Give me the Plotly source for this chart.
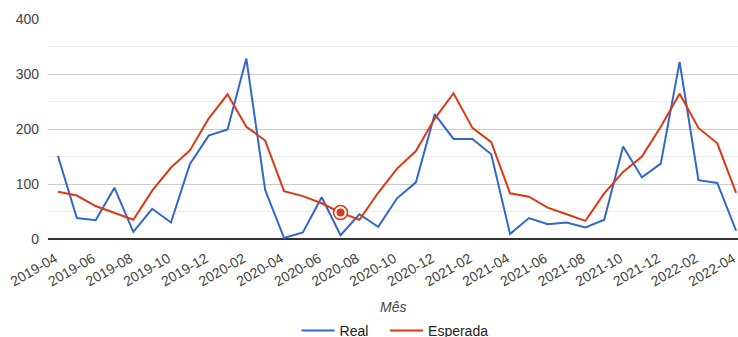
import plotly.graph_objects as go

months = ["2019-04","2019-05","2019-06","2019-07","2019-08","2019-09","2019-10","2019-11","2019-12",
          "2020-01","2020-02","2020-03","2020-04","2020-05","2020-06","2020-07","2020-08","2020-09",
          "2020-10","2020-11","2020-12","2021-01","2021-02","2021-03","2021-04","2021-05","2021-06",
          "2021-07","2021-08","2021-09","2021-10","2021-11","2021-12","2022-01","2022-02","2022-03","2022-04"]
real = [151, 38, 34, 93, 13, 55, 30, 136, 188, 199, 328, 89, 2, 12, 76, 7, 45, 22,
        74, 103, 227, 182, 182, 154, 9, 38, 27, 30, 21, 35, 168, 112, 137, 322, 107, 102, 15]
esperada = [86, 79, 60, 48, 35, 88, 130, 161, 219, 263, 204, 179, 87, 78, 65, 48, 35, 84,
            128, 160, 219, 265, 202, 176, 83, 77, 57, 45, 33, 83, 122, 150, 204, 264, 202, 174, 84]
series_names = ["Real", "Esperada"]
highlight_month = "2020-07"

idx = list(range(len(months)))
tick_idx = idx[::2]
tick_text = months[::2]
hi = months.index(highlight_month)

BLUE = "#3366CC"
RED = "#DC3912"
PAD = "\u00a0\u00a0\u00a0"  # extra spacing between legend entries

fig = go.Figure()
fig.add_trace(go.Scatter(x=idx, y=real, mode="lines", name=series_names[0] + PAD,
                         line=dict(color=BLUE, width=2)))
fig.add_trace(go.Scatter(x=idx, y=esperada, mode="lines", name=series_names[1],
                         line=dict(color=RED, width=2)))
fig.add_trace(go.Scatter(x=[hi], y=[esperada[hi]], mode="markers", showlegend=False,
                         marker=dict(size=14, color="white", line=dict(color=RED, width=1.5))))
fig.add_trace(go.Scatter(x=[hi], y=[esperada[hi]], mode="markers", showlegend=False,
                         marker=dict(size=8, color=RED, line=dict(width=0))))

fig.update_layout(
    width=738, height=337,
    margin=dict(l=48, r=0, t=19, b=98, autoexpand=False),
    paper_bgcolor="white", plot_bgcolor="white",
    font=dict(family="Liberation Sans, Arial, sans-serif", size=14, color="#444"),
    showlegend=True,
    legend=dict(orientation="h", x=0.503, xanchor="center", y=-0.418, yanchor="middle",
                font=dict(size=14, color="#222"), itemwidth=33, tracegroupgap=0),
    xaxis=dict(range=[-0.53, 36.1], tickmode="array", tickvals=tick_idx, ticktext=tick_text,
               tickangle=-30, showgrid=False, zeroline=False, showline=False, ticks="",
               ticklabeloverflow="allow", automargin=False, ticklabelstandoff=8,
               ticklabelshift=-3,
               tickfont=dict(size=14, color="#444"), fixedrange=True),
    yaxis=dict(range=[0, 400], dtick=100, showgrid=True, gridcolor="#cccccc", gridwidth=1,
               zeroline=True, zerolinecolor="#333333", zerolinewidth=1.5,
               minor=dict(dtick=50, showgrid=True, gridcolor="#ebebeb"),
               tickfont=dict(size=14, color="#444"), ticks="", ticklabelstandoff=8,
               automargin=False),
    annotations=[dict(text="<i>Mês</i>", x=0.5, xref="paper", y=-0.31, yref="paper",
                      showarrow=False, yanchor="middle", font=dict(size=14, color="#444"))],
)

fig.write_html("out.html")
